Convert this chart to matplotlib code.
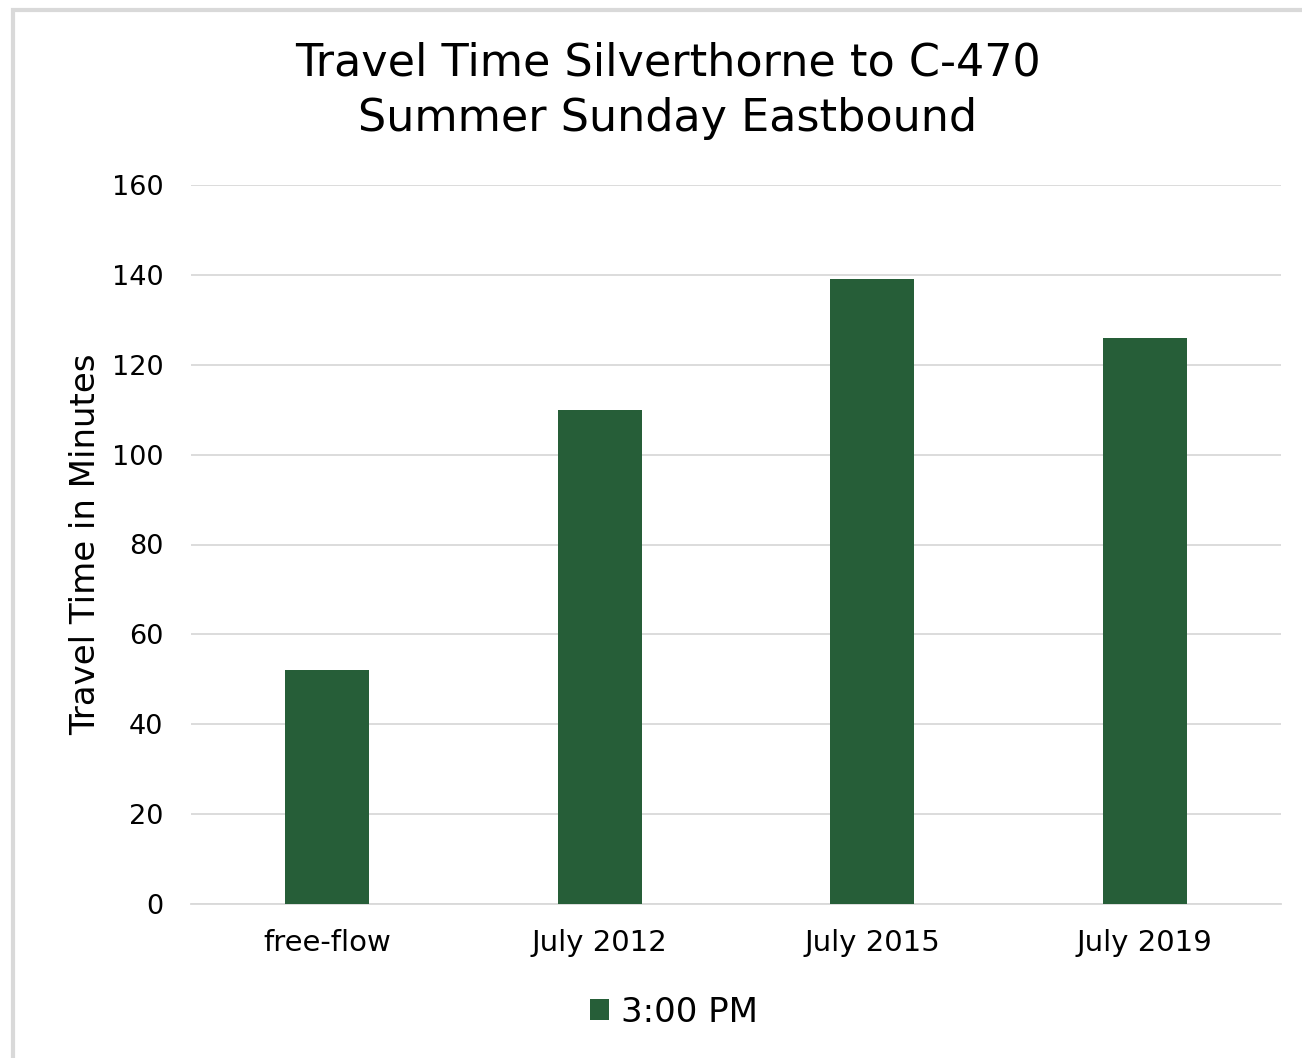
import matplotlib
matplotlib.use("Agg")
import matplotlib.pyplot as plt
from matplotlib.patches import Rectangle

categories = ["free-flow", "July 2012", "July 2015", "July 2019"]
values_3pm = [52, 110, 139, 126]
series_name = "3:00 PM"
yticks = [0, 20, 40, 60, 80, 100, 120, 140, 160]

W, H = 1302, 1058
fig = plt.figure(figsize=(W / 100, H / 100), dpi=100)
plt.rcParams['font.family'] = ['DejaVu Sans']

# outer border (top/left visible)
fig.patches.append(Rectangle((12.5 / W, -0.1), 1.2, 1 - 10 / H + 0.1,
                             transform=fig.transFigure, fill=False,
                             edgecolor='#d9d9d9', linewidth=3, zorder=0))

ax = fig.add_axes([191 / W, 1 - 904 / H, (1281 - 191) / W, (904 - 185) / H])
x = list(range(len(categories)))
bars = ax.bar(x, values_3pm, width=0.31, color='#265E38', label=series_name, zorder=3)
ax.set_xlim(-0.5, len(categories) - 0.5)
ax.set_ylim(0, 160)
ax.set_yticks(yticks)
ax.set_xticks(x)
ax.set_xticklabels(categories, fontsize=21)
ax.tick_params(axis='y', labelsize=19.5, length=0, pad=20)
ax.tick_params(axis='x', length=0, pad=18)
ax.grid(axis='y', color='#d9d9d9', linewidth=1.3, zorder=0)
for s in ['top', 'right', 'left']:
    ax.spines[s].set_visible(False)
ax.spines['bottom'].set_color('#d9d9d9')
ax.spines['bottom'].set_linewidth(1.3)
ax.set_ylabel("Travel Time in Minutes", fontsize=24.5, labelpad=7)

fig.text(668 / W, 1 - 91 / H, "Travel Time Silverthorne to C-470\nSummer Sunday Eastbound",
         ha='center', va='center', fontsize=32, linespacing=1.38)

leg = fig.legend(handles=[bars], labels=[series_name], loc='center',
                 bbox_to_anchor=(674 / W, 1 - 1012 / H), frameon=False,
                 fontsize=24.5, handlelength=0.55, handleheight=0.55, handletextpad=0.35)

fig.savefig("out.png", dpi=100)
